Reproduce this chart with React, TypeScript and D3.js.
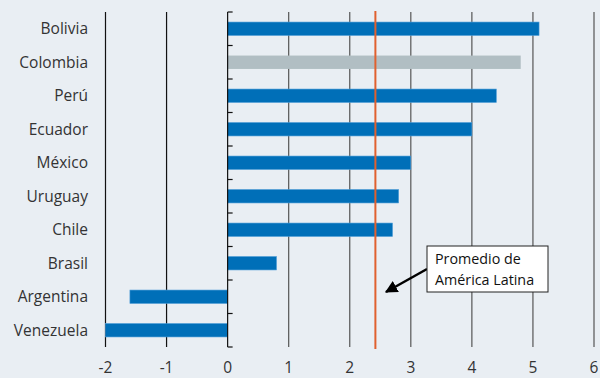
import React from "react";
import * as d3 from "d3";

const categories = ["Bolivia", "Colombia", "Perú", "Ecuador", "México", "Uruguay", "Chile", "Brasil", "Argentina", "Venezuela"];
const values = [5.1, 4.8, 4.4, 4.0, 3.0, 2.8, 2.7, 0.8, -1.6, -2.0];
const highlight = ["Colombia"];
const xTicks = [-2, -1, 0, 1, 2, 3, 4, 5, 6];
const average = 2.42;
const annotationLines = ["Promedio de", "América Latina"];

const W = 600;
const H = 378;
const font = "'Open Sans', sans-serif";

export default function App() {
  const x = d3.scaleLinear().domain([-2, 6]).range([105.5, 594]);
  const y = d3.scaleBand().domain(categories).range([12, 347]).paddingInner(0.6).paddingOuter(0.3);
  const top = 12;
  const bottom = 347;
  const x0 = x(0);
  const boundaries = d3.range(categories.length + 1).map((i) => top + i * (bottom - top) / categories.length);
  const xa = x(average);

  return (
    <svg width={W} height={H} style={{ position: "absolute", left: 0, top: 0, background: "#e9eef3" }}>
      <rect x={0} y={0} width={W} height={H} fill="#e9eef3" />
      {xTicks.filter((t) => t !== 0).map((t) => (
        <line key={t} x1={x(t)} x2={x(t)} y1={top} y2={bottom} stroke={t < 0 ? "#111" : "#555"} strokeWidth={1.2} />
      ))}
      {categories.map((c, i) => {
        const v = values[i];
        const isHi = highlight.includes(c);
        return (
          <rect
            key={c}
            x={Math.min(x(v), x0)}
            y={y(c)}
            width={Math.abs(x(v) - x0)}
            height={y.bandwidth()}
            fill={isHi ? "#b1bec3" : "#006fb8"}
            stroke={isHi ? "none" : "#4a9ad6"}
            strokeWidth={0.6}
          />
        );
      })}
      <line x1={x0} x2={x0} y1={top} y2={bottom} stroke="#111" strokeWidth={1.2} />
      {boundaries.map((b, i) => (
        <line key={i} x1={x0} x2={x0 + 5} y1={b} y2={b} stroke="#111" strokeWidth={1.2} />
      ))}
      <line x1={xa} x2={xa} y1={top - 1} y2={bottom + 2} stroke="#e0602f" strokeWidth={2} />
      {categories.map((c) => (
        <text key={c} x={88} y={(y(c) ?? 0) + y.bandwidth() / 2} dy="0.35em" textAnchor="end" fontFamily={font} fontSize={15.5} fill="#333">
          {c}
        </text>
      ))}
      {xTicks.map((t) => (
        <text key={t} x={x(t)} y={368} dy="0.35em" textAnchor="middle" fontFamily={font} fontSize={15.5} fill="#333">
          {t}
        </text>
      ))}
      <defs>
        <marker id="arrow" viewBox="0 0 10 10" refX="9" refY="5" markerWidth="5" markerHeight="5" orient="auto">
          <path d="M0,0 L10,5 L0,10 z" fill="#000" />
        </marker>
      </defs>
      <line x1={427} y1={269} x2={386} y2={292} stroke="#000" strokeWidth={2.5} markerEnd="url(#arrow)" />
      <rect x={427} y={246} width={121} height={46} fill="#fff" stroke="#222" strokeWidth={1} />
      {annotationLines.map((l, i) => (
        <text key={l} x={435} y={264 + i * 21} fontFamily={font} fontSize={14.3} fill="#111">
          {l}
        </text>
      ))}
    </svg>
  );
}
